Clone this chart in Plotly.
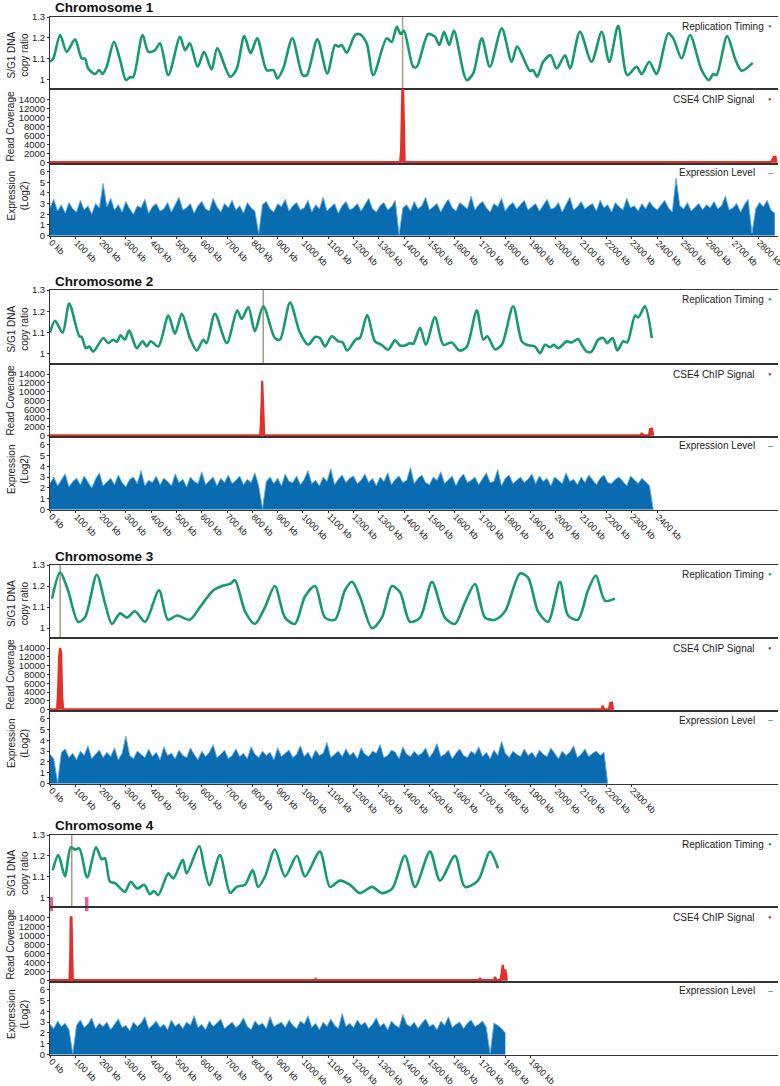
import plotly.graph_objects as go

# ---------------- DATA ----------------
chrom_names = ["Chromosome 1", "Chromosome 2", "Chromosome 3", "Chromosome 4"]
tick_max_kb = [2800, 2400, 2300, 1900]
centromere_kb = [1394, 843, 40, 86]
chr4_marks_kb = [5, 145]

# Replication timing (S/G1 DNA copy ratio), position in kb
chr1_rt_kb = [0, 13, 40, 66, 99, 125, 138, 151, 178, 194, 208, 224, 253, 279, 300, 316, 329, 366, 389, 415, 435,
              468, 514, 534, 553, 584, 609, 639, 661, 712, 738, 768, 793, 819, 857, 883, 899, 922, 958, 999, 1015,
              1057, 1096, 1127, 1140, 1153, 1173, 1206, 1225, 1252, 1278, 1331, 1351, 1371, 1386, 1399, 1436, 1450,
              1495, 1522, 1539, 1558, 1578, 1597, 1647, 1673, 1707, 1739, 1786, 1825, 1847, 1897, 1910, 1926, 1950,
              1979, 2003, 2036, 2056, 2095, 2141, 2181, 2211, 2246, 2282, 2319, 2339, 2369, 2398, 2444, 2464, 2497,
              2530, 2576, 2605, 2622, 2635, 2677, 2708, 2734, 2778]
chr1_rt_val = [1.084, 1.10, 1.213, 1.132, 1.192, 1.10, 1.10, 1.052, 1.025, 1.044, 1.025, 1.06, 1.18, 1.084, 0.996,
               1.01, 1.01, 1.213, 1.132, 1.14, 1.173, 1.02, 1.205, 1.14, 1.173, 1.06, 1.132, 1.047, 1.149, 1.012,
               1.05, 1.208, 1.125, 1.197, 1.044, 1.044, 1.004, 1.052, 1.197, 1.02, 1.02, 1.192, 1.028, 1.165, 1.157,
               1.165, 1.128, 1.213, 1.217, 1.173, 1.02, 1.197, 1.18, 1.253, 1.218, 1.234, 1.06, 1.06, 1.218, 1.205,
               1.165, 1.229, 1.165, 1.234, 0.996, 1.028, 1.197, 1.06, 1.245, 1.084, 1.157, 1.04, 1.044, 1.012, 1.084,
               1.116, 1.052, 1.116, 1.052, 1.229, 1.084, 1.229, 1.084, 1.257, 1.02, 1.06, 1.025, 1.084, 1.025, 1.221,
               1.197, 1.10, 1.213, 1.044, 0.996, 1.025, 1.02, 1.208, 1.10, 1.041, 1.079]

chr2_rt_kb = [0, 20, 50, 76, 116, 125, 142, 155, 171, 211, 230, 250, 264, 279, 296, 313, 343, 366, 382, 398, 428,
              468, 494, 521, 553, 580, 606, 619, 652, 699, 740, 758, 784, 810, 843, 889, 909, 949, 988, 1021, 1048,
              1067, 1087, 1114, 1140, 1157, 1175, 1210, 1225, 1254, 1285, 1311, 1337, 1364, 1384, 1403, 1423, 1436,
              1463, 1486, 1522, 1555, 1588, 1618, 1647, 1687, 1713, 1729, 1759, 1786, 1831, 1865, 1884, 1917, 1937,
              1957, 1977, 1992, 2009, 2043, 2062, 2088, 2102, 2122, 2141, 2167, 2187, 2203, 2224, 2243, 2266, 2282,
              2313, 2326, 2352, 2379]
chr2_rt_val = [1.10, 1.156, 1.10, 1.236, 1.083, 1.08, 1.027, 1.035, 1.011, 1.075, 1.051, 1.067, 1.056, 1.088, 1.067,
               1.11, 1.027, 1.06, 1.035, 1.06, 1.035, 1.18, 1.095, 1.188, 1.075, 1.016, 1.067, 1.051, 1.188, 1.051,
               1.204, 1.164, 1.22, 1.107, 1.224, 1.075, 1.067, 1.241, 1.10, 1.043, 1.08, 1.075, 1.035, 1.083, 1.059,
               1.054, 1.016, 1.07, 1.075, 1.183, 1.059, 1.043, 1.02, 1.064, 1.04, 1.04, 1.051, 1.048, 1.123, 1.043,
               1.172, 1.043, 1.054, 1.016, 1.032, 1.204, 1.067, 1.083, 1.022, 1.043, 1.224, 1.059, 1.043, 1.035,
               1.003, 1.043, 1.032, 1.043, 1.027, 1.059, 1.054, 1.07, 1.043, 1.011, 1.011, 1.067, 1.075, 1.051,
               1.075, 1.016, 1.059, 1.054, 1.18, 1.172, 1.224, 1.075]

chr3_rt_kb = [8, 40, 71, 111, 138, 185, 217, 245, 277, 304, 336, 376, 431, 466, 502, 553, 593, 644, 680, 712, 731,
              771, 810, 850, 889, 929, 968, 1008, 1048, 1087, 1127, 1166, 1194, 1225, 1273, 1312, 1352, 1384, 1423,
              1463, 1510, 1561, 1601, 1640, 1680, 1720, 1759, 1799, 1858, 1890, 1929, 1969, 2016, 2048, 2087, 2127,
              2158, 2194, 2233]
chr3_rt_val = [1.14, 1.265, 1.18, 1.03, 1.05, 1.254, 1.12, 1.02, 1.07, 1.05, 1.08, 1.03, 1.18, 1.04, 1.06, 1.04,
               1.10, 1.178, 1.2, 1.21, 1.228, 1.08, 1.02, 1.1, 1.2, 1.05, 1.02, 1.15, 1.2, 1.05, 1.04, 1.18, 1.22,
               1.15, 1.0, 1.05, 1.2, 1.17, 1.03, 1.05, 1.22, 1.05, 1.02, 1.12, 1.21, 1.05, 1.04, 1.08, 1.26, 1.24,
               1.08, 1.03, 1.22, 1.06, 1.04, 1.18, 1.25, 1.13, 1.14]

chr4_rt_kb = [11, 33, 59, 82, 99, 116, 147, 182, 204, 217, 237, 257, 296, 319, 345, 372, 395, 411, 428, 468, 487,
              525, 540, 590, 609, 630, 672, 712, 738, 771, 801, 823, 850, 889, 929, 976, 1008, 1067, 1107, 1146,
              1186, 1225, 1273, 1312, 1352, 1403, 1443, 1502, 1542, 1601, 1640, 1692, 1739, 1771]
chr4_rt_val = [1.131, 1.203, 1.102, 1.241, 1.230, 1.235, 1.096, 1.241, 1.183, 1.188, 1.075, 1.068, 1.026, 1.075,
               1.042, 1.06, 1.015, 1.03, 1.01, 1.115, 1.091, 1.18, 1.115, 1.247, 1.15, 1.058, 1.203, 1.021, 1.05,
               1.06, 1.131, 1.05, 1.10, 1.23, 1.10, 1.2, 1.1, 1.22, 1.05, 1.08, 1.06, 1.02, 1.05, 1.02, 1.04, 1.2,
               1.05, 1.22, 1.08, 1.2, 1.05, 1.08, 1.22, 1.14]

# CSE4 ChIP signal (read coverage)
chr1_chip_kb = [0, 1384, 1388, 1391, 1393, 1396, 1398, 1402, 2850, 2856, 2862, 2868, 2872]
chr1_chip_val = [100, 100, 2500, 12000, 16500, 16500, 6000, 100, 100, 900, 1300, 1300, 0]
chr2_chip_kb = [0, 831, 834, 837, 839, 841, 844, 847, 2335, 2340, 2345, 2368, 2372, 2380, 2385]
chr2_chip_val = [100, 100, 3000, 10000, 12500, 9000, 1500, 100, 100, 600, 100, 100, 1500, 1600, 0]
chr3_chip_kb = [0, 28, 32, 36, 40, 44, 48, 52, 2180, 2185, 2190, 2210, 2214, 2222, 2226]
chr3_chip_val = [100, 100, 4000, 12000, 14000, 13000, 3000, 100, 100, 900, 100, 100, 1500, 1600, 0]
chr4_chip_kb = [0, 77, 80, 82, 85, 87, 90, 1045, 1050, 1055, 1695, 1700, 1705, 1755, 1760, 1765, 1780, 1785,
                1790, 1795, 1800, 1806]
chr4_chip_val = [100, 100, 5000, 14000, 14000, 3000, 100, 100, 400, 100, 100, 600, 100, 100, 800, 100, 100,
                 1500, 3500, 1200, 2500, 0]

# Expression level (log2), one value every 15 kb
expr_step_kb = 15
chr1_expr = [2.6, 3.4, 2.3, 2.9, 2.1, 3.1, 2.5, 2.2, 3.3, 2.4, 2.8, 2.0, 3.0, 2.6, 4.9, 2.7,
             3.5, 2.4, 2.9, 2.2, 3.2, 2.5, 2.0, 2.8, 2.6, 3.4, 2.1, 2.7, 3.0, 2.3, 2.5, 3.1,
             2.2, 2.9, 3.6, 2.4, 2.6, 3.0, 2.1, 2.8, 3.2, 2.5, 2.3, 3.5, 2.7, 2.2, 3.0, 2.6,
             3.3, 2.4, 2.8, 2.1, 3.1, 2.6, 2.3, 0.2, 2.9, 3.2, 2.5, 2.2, 3.0, 2.7, 3.4, 2.3,
             2.8, 3.1, 2.4, 2.6, 3.3, 2.2, 2.9, 2.5, 3.6, 2.3, 2.7, 3.0, 2.1, 2.8, 3.2, 2.4,
             2.6, 3.0, 2.3, 2.9, 3.5, 2.5, 2.2, 2.8, 3.1, 2.4, 2.7, 3.3, 0.1, 2.6, 2.9, 2.3,
             3.2, 2.5, 2.8, 3.6, 2.4, 2.7, 3.0, 2.2, 2.9, 3.4, 2.6, 2.3, 3.1, 2.8, 2.5, 3.7,
             2.4, 2.9, 3.2, 2.6, 2.2, 3.0, 2.7, 3.5, 2.3, 2.8, 3.1, 2.5, 2.9, 3.3, 2.4, 2.7,
             3.0, 2.3, 2.8, 3.4, 2.5, 2.6, 3.1, 2.2, 2.9, 3.6, 2.4, 2.7, 3.2, 2.5, 2.8, 3.0,
             2.3, 3.3, 2.6, 2.9, 2.2, 3.1, 2.7, 2.4, 3.5, 2.6, 2.8, 2.3, 3.0, 2.5, 3.2, 2.7,
             2.4, 2.9, 3.3, 2.6, 2.2, 5.4, 2.8, 2.5, 3.1, 2.3, 2.7, 3.0, 2.4, 2.9, 2.6, 3.2,
             2.5, 2.8, 3.7, 2.4, 2.6, 3.0, 2.2, 2.9, 3.4, 0.2, 2.5, 3.1, 2.7, 3.3, 2.4, 2.1]
chr2_expr = [2.4, 3.0, 2.2, 2.7, 3.3, 2.1, 2.6, 2.9, 2.3, 3.1, 2.5, 2.0, 2.8, 3.4, 2.2, 2.6,
             2.9, 2.3, 3.2, 2.5, 2.1, 2.8, 3.0, 2.4, 3.6, 2.2, 2.7, 2.5, 3.1, 2.3, 2.9, 2.6,
             2.2, 3.3, 2.5, 2.8, 2.1, 3.0, 2.6, 2.4, 3.5, 2.3, 2.7, 3.0, 2.2, 2.9, 2.5, 3.2,
             2.4, 2.7, 3.1, 2.3, 2.8, 2.5, 3.4, 2.2, 0.1, 2.6, 3.0, 2.4, 2.9, 2.2, 3.3, 2.6,
             2.5, 3.1, 2.3, 2.8, 3.6, 2.4, 2.7, 2.2, 3.0, 2.6, 3.8, 2.3, 2.8, 3.2, 2.5, 2.9,
             3.1, 2.4, 2.7, 3.3, 2.5, 2.9, 2.2, 3.0, 2.6, 3.4, 2.3, 2.8, 3.1, 2.5, 2.7, 3.9,
             2.4, 2.9, 3.2, 2.5, 2.3, 3.0, 2.7, 3.5, 2.4, 2.8, 3.1, 2.2, 2.9, 3.3, 2.5, 2.7,
             3.0, 2.3, 2.8, 3.4, 2.5, 2.6, 3.7, 2.2, 2.9, 3.2, 2.4, 2.7, 3.0, 2.5, 2.8, 3.3,
             2.4, 3.1, 2.6, 2.9, 2.2, 3.0, 2.7, 2.4, 3.4, 2.6, 2.8, 2.3, 3.0, 2.5, 3.2, 2.7,
             2.3, 2.9, 3.2, 2.5, 2.4, 2.8, 3.0, 2.6, 2.2, 3.1, 2.7, 2.4, 2.9, 2.5, 2.2, 0.0]
chr3_expr = [2.7, 2.3, 0.1, 2.9, 3.2, 2.4, 2.8, 2.2, 3.0, 2.6, 3.5, 2.3, 2.7, 3.1, 2.4, 2.9,
             2.5, 3.3, 2.2, 2.8, 4.4, 2.6, 2.3, 3.0, 2.7, 2.4, 3.2, 2.5, 2.9, 2.2, 3.4, 2.6,
             2.8, 2.3, 3.1, 2.6, 2.4, 3.3, 2.7, 2.2, 3.0, 2.5, 2.9, 3.6, 2.4, 2.7, 3.1, 2.3,
             2.6, 3.2, 2.5, 2.8, 2.3, 3.4, 2.7, 2.4, 3.0, 2.6, 2.9, 2.2, 3.3, 2.5, 2.8, 3.1,
             2.4, 2.7, 3.5, 2.5, 2.9, 2.3, 3.1, 2.6, 2.8, 3.8, 2.4, 2.7, 3.0, 2.5, 3.2, 2.6,
             2.9, 2.3, 3.3, 2.7, 2.5, 3.0, 2.8, 3.6, 2.4, 2.6, 3.1, 2.9, 2.3, 3.4, 2.7, 2.5,
             3.0, 2.6, 2.8, 3.3, 2.4, 2.9, 3.7, 2.5, 2.7, 3.1, 2.3, 2.8, 3.2, 2.6, 2.4, 3.0,
             2.7, 3.4, 2.5, 2.9, 2.3, 3.1, 2.6, 3.9, 2.8, 2.4, 3.0, 2.7, 2.5, 3.2, 2.6, 2.9,
             2.4, 3.1, 2.7, 2.5, 3.3, 2.8, 2.3, 3.0, 2.6, 2.9, 3.5, 2.4, 2.7, 3.2, 2.5, 2.8,
             3.0, 2.6, 2.9, 0.0]
chr4_expr = [2.8, 2.4, 3.1, 2.6, 2.9, 2.3, 0.1, 2.7, 3.2, 2.5, 2.8, 3.4, 2.4, 2.9, 2.6, 3.0,
             2.3, 2.8, 3.3, 2.5, 2.7, 2.2, 3.0, 2.6, 2.9, 3.5, 2.4, 2.7, 3.1, 2.5, 2.8, 2.3,
             3.2, 2.6, 2.9, 2.4, 3.0, 2.7, 3.6, 2.5, 2.8, 2.3, 3.1, 2.6, 2.9, 3.3, 2.4, 2.7,
             3.0, 2.5, 2.8, 3.4, 2.6, 2.3, 3.1, 2.7, 2.9, 2.4, 3.5, 2.6, 2.8, 3.0, 2.5, 3.2,
             2.7, 2.4, 3.1, 2.8, 3.6, 2.5, 2.9, 2.3, 3.0, 2.6, 3.3, 2.7, 2.4, 3.8, 2.6, 2.9,
             2.5, 3.2, 2.7, 3.0, 2.4, 2.8, 3.4, 2.6, 2.9, 2.3, 3.1, 2.7, 2.5, 3.7, 2.8, 2.6,
             3.0, 2.4, 2.9, 3.3, 2.6, 2.8, 2.3, 3.1, 2.7, 3.5, 2.5, 2.8, 3.0, 2.4, 2.9, 3.2,
             2.6, 2.8, 3.1, 2.5, 0.1, 2.9, 2.7, 2.4, 2.0]

rt_kb = [chr1_rt_kb, chr2_rt_kb, chr3_rt_kb, chr4_rt_kb]
rt_val = [chr1_rt_val, chr2_rt_val, chr3_rt_val, chr4_rt_val]
chip_kb = [chr1_chip_kb, chr2_chip_kb, chr3_chip_kb, chr4_chip_kb]
chip_val = [chr1_chip_val, chr2_chip_val, chr3_chip_val, chr4_chip_val]
expr = [chr1_expr, chr2_expr, chr3_expr, chr4_expr]

# ---------------- STYLE / LAYOUT ----------------
W, H = 780, 1086
GREEN = "#179a6f"
RED = "#e3302b"
BLUE_FILL = "#0a6cb0"
BLUE_LINE = "#6aaede"
CEN = "#ad9a80"
PINK = "#e0609e"
AXC = "#333333"
FONT = "Liberation Sans, Arial, sans-serif"

# panel pixel rows: (top, rt bottom, chip bottom, expr bottom)
blocks = [(17, 89, 164, 236), (290, 364, 437, 510), (565, 638, 711, 784), (835, 907, 982, 1055)]
X_L, X_R = 50, 778
X_RANGE = [0, 2878]


def fy(px):
    return 1 - px / H


fig = go.Figure()
layout = {}
annotations = []
shapes = []

for c in range(4):
    top, b1, b2, b3 = blocks[c]
    rows = [(top, b1), (b1, b2), (b2, b3)]
    for p in range(3):
        n = c * 3 + p + 1
        xname = "x" if n == 1 else f"x{n}"
        yname = "y" if n == 1 else f"y{n}"
        xkey = "xaxis" if n == 1 else f"xaxis{n}"
        ykey = "yaxis" if n == 1 else f"yaxis{n}"
        t, b = rows[p]
        xa = dict(domain=[X_L / W, X_R / W], range=X_RANGE, anchor=yname, showline=True, mirror=True,
                  linecolor=AXC, linewidth=1, showgrid=False, zeroline=False, automargin=False,
                  showticklabels=False, fixedrange=True)
        if p == 2:
            tv = list(range(0, tick_max_kb[c] + 1, 100))
            xa.update(tickvals=tv, ticks="outside", ticklen=2, tickcolor=AXC)
            for v in tv:
                annotations.append(dict(text=f"{v} kb", xref=xname, yref=f"{yname} domain", x=v, y=0,
                                        xanchor="left", yanchor="top", textangle=45, showarrow=False,
                                        xshift=-6, yshift=1, font=dict(family=FONT, size=9, color="#222")))
        else:
            xa.update(ticks="")
        ya = dict(domain=[fy(b), fy(t)], anchor=xname, showline=True, linecolor=AXC, linewidth=1,
                  showgrid=False, zeroline=False, ticks="outside", ticklen=2, tickcolor=AXC, automargin=False,
                  tickfont=dict(family=FONT, size=9.5, color="#222"), fixedrange=True)
        if p == 0:
            ya.update(range=[0.953, 1.3], tickvals=[1, 1.1, 1.2, 1.3], ticktext=["1", "1.1", "1.2", "1.3"])
        elif p == 1:
            tvc = list(range(0, 14001, 2000))
            ya.update(range=[-300, 16300], tickvals=tvc, ticktext=[str(v) for v in tvc])
        else:
            ya.update(range=[-0.05, 6.72], tickvals=list(range(0, 7)), ticktext=[str(v) for v in range(7)])
        layout[xkey] = xa
        layout[ykey] = ya

        if p == 0:
            fig.add_trace(go.Scatter(x=rt_kb[c], y=rt_val[c], mode="lines", line=dict(color=GREEN, width=2.6,
                                     shape="spline", smoothing=0.8), xaxis=xname, yaxis=yname, showlegend=False))
            shapes.append(dict(type="line", xref=xname, yref=f"{yname} domain", x0=centromere_kb[c],
                               x1=centromere_kb[c], y0=0, y1=1, line=dict(color=CEN, width=1.5), layer="below"))
            if c == 3:
                fig.add_trace(go.Scatter(x=chr4_marks_kb, y=[0.967] * len(chr4_marks_kb), mode="markers",
                                         marker=dict(symbol="line-ns", size=10, line=dict(color=PINK, width=3.5)),
                                         xaxis=xname, yaxis=yname, showlegend=False, cliponaxis=False))
        elif p == 1:
            fig.add_trace(go.Scatter(x=chip_kb[c], y=chip_val[c], mode="lines", fill="tozeroy", fillcolor=RED,
                                     line=dict(color=RED, width=2.2), xaxis=xname, yaxis=yname, showlegend=False))
        else:
            xs = [i * expr_step_kb for i in range(len(expr[c]))]
            fig.add_trace(go.Scatter(x=xs, y=expr[c], mode="lines", fill="tozeroy", fillcolor=BLUE_FILL,
                                     line=dict(color=BLUE_LINE, width=0.9), xaxis=xname,
                                     yaxis=yname, showlegend=False))

    # chromosome title
    annotations.append(dict(text=f"<b>{chrom_names[c]}</b>", xref="paper", yref="paper", x=53 / W,
                            y=fy(top - 9), xanchor="left", yanchor="middle", showarrow=False,
                            font=dict(family=FONT, size=13.5, color="#111")))
    # axis titles
    annotations.append(dict(text="S/G1 DNA<br>copy ratio", xref="paper", yref="paper", x=17.5 / W,
                            y=fy((top + b1) / 2 + 2), textangle=-90, showarrow=False, xanchor="center",
                            yanchor="middle", font=dict(family=FONT, size=10, color="#222")))
    annotations.append(dict(text="Read Coverage", xref="paper", yref="paper", x=10 / W,
                            y=fy((b1 + b2) / 2), textangle=-90, showarrow=False, xanchor="center",
                            yanchor="middle", font=dict(family=FONT, size=10, color="#222")))
    annotations.append(dict(text="Expression<br>(Log2)", xref="paper", yref="paper", x=17.5 / W,
                            y=fy((b2 + b3) / 2 - 4), textangle=-90, showarrow=False, xanchor="center",
                            yanchor="middle", font=dict(family=FONT, size=10, color="#222")))
    # legend labels
    for txt, ypx, sym, col, xr, fs in [("Replication Timing", top + 9, "●", GREEN, 766, 6),
                                        ("CSE4 ChIP Signal", b1 + 10, "●", RED, 757, 6),
                                        ("Expression Level", b2 + 9, "–", "#1f78c1", 757, 9)]:
        annotations.append(dict(text=txt, xref="paper", yref="paper", x=xr / W, y=fy(ypx), xanchor="right",
                                yanchor="middle", showarrow=False, font=dict(family=FONT, size=10, color="#222")))
        annotations.append(dict(text=sym, xref="paper", yref="paper", x=770 / W, y=fy(ypx), xanchor="center",
                                yanchor="middle", showarrow=False, font=dict(family=FONT, size=fs, color=col)))

fig.update_layout(**layout)
fig.update_layout(width=W, height=H, margin=dict(l=0, r=0, t=0, b=0, autoexpand=False), paper_bgcolor="white",
                  plot_bgcolor="white", annotations=annotations, shapes=shapes, showlegend=False)
fig.write_html("out.html", config={"displayModeBar": False},
               post_script="document.body.style.margin='0';")
